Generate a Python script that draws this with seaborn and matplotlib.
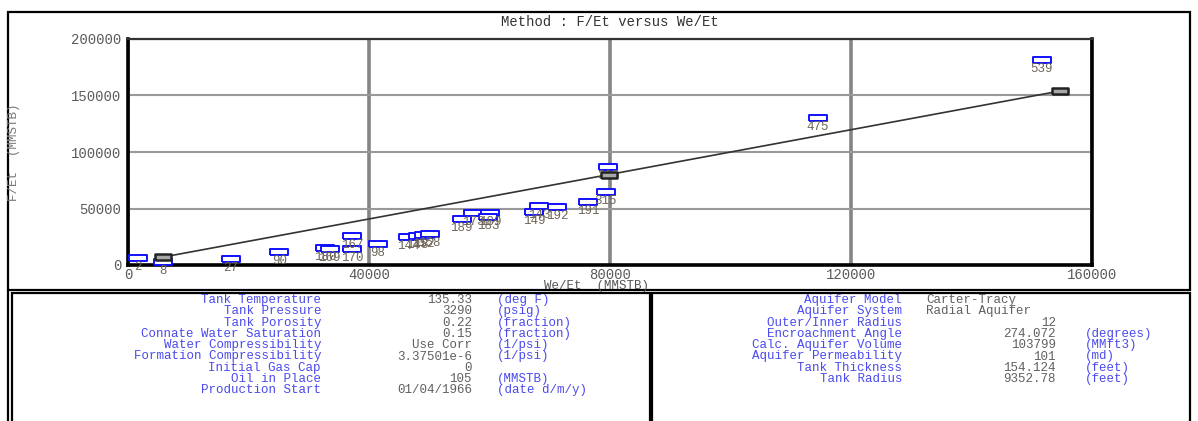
import seaborn as sns
import matplotlib.pyplot as plt
import pandas as pd
from matplotlib.patches import Rectangle
from matplotlib.lines import Line2D

# F/Et versus We/Et points (MMSTB)
we_et = [1700, 5800, 17100, 25100, 32700, 33500, 37200, 37200, 41500,
         46500, 48100, 49100, 50100, 55400, 57300, 60100, 59800,
         67400, 68200, 71200, 76400, 79300, 79700, 114500, 151700]
f_et = [6000, 2700, 5300, 11500, 15000, 14200, 14200, 25700, 18600,
        24800, 25700, 26500, 27400, 40700, 46000, 46000, 42500,
        46900, 52200, 51300, 55800, 64600, 86700, 130100, 181400]
point_labels = ["2", "8", "27", "90", "180", "169", "170", "167", "98",
                "144", "148", "152", "158", "189", "173", "189", "183",
                "149", "143", "192", "191", "315", "325", "475", "539"]

# fitted straight line
fit_we = [5800, 79800, 154700]
fit_f = [7000, 80000, 154000]

x_ticks = [0, 40000, 80000, 120000, 160000]
y_ticks = [0, 50000, 100000, 150000, 200000]

tank_names = ["Tank Temperature", "Tank Pressure", "Tank Porosity",
              "Connate Water Saturation", "Water Compressibility",
              "Formation Compressibility", "Initial Gas Cap",
              "Oil in Place", "Production Start"]
tank_values = ["135.33", "3290", "0.22", "0.15", "Use Corr",
               "3.37501e-6", "0", "105", "01/04/1966"]
tank_units = ["(deg F)", "(psig)", "(fraction)", "(fraction)", "(1/psi)",
              "(1/psi)", "", "(MMSTB)", "(date d/m/y)"]

aquifer_names = ["Aquifer Model", "Aquifer System", "Outer/Inner Radius",
                 "Encroachment Angle", "Calc. Aquifer Volume",
                 "Aquifer Permeability", "Tank Thickness", "Tank Radius"]
aquifer_values = ["Carter-Tracy", "Radial Aquifer", "12", "274.072",
                  "103799", "101", "154.124", "9352.78"]
aquifer_units = ["", "", "", "(degrees)", "(MMft3)", "(md)", "(feet)", "(feet)"]

W, H = 1198, 421
MONO = ["Liberation Mono", "DejaVu Sans Mono"]

sns.set_style("white")
plt.rcParams["font.family"] = MONO


def fx(x):
	return x / W


def fy(y):
	return 1 - y / H


fig = plt.figure(figsize=(W / 100, H / 100), dpi=100)
ax = fig.add_axes([fx(128), fy(265), fx(1092) - fx(128), fy(39) - fy(265)])

df = pd.DataFrame({"we_et": we_et, "f_et": f_et, "label": point_labels})
box = [(-1, -0.38), (1, -0.38), (1, 0.38), (-1, 0.38), (-1, -0.38)]

sns.lineplot(x=fit_we, y=fit_f, color="#333333", lw=1.2, ax=ax, zorder=3)
sns.scatterplot(data=df, x="we_et", y="f_et", marker=box, s=150,
                color="white", edgecolor="#1010ff", linewidth=1.4,
                ax=ax, zorder=4)

for _, r in df.iterrows():
	ax.annotate(r["label"], (r["we_et"], r["f_et"]), xytext=(0, -9),
	            textcoords="offset pixels", ha="center", va="center",
	            fontsize=9, color="#6e6658", zorder=5)

sns.scatterplot(x=fit_we, y=fit_f, marker=box, s=140, color="#a8a8a8",
                edgecolor="#222222", linewidth=1.8, ax=ax, zorder=6)

ax.set_xlim(0, 160000)
ax.set_ylim(0, 200000)
ax.set_xticks(x_ticks)
ax.set_yticks(y_ticks)
ax.set_xticklabels([str(t) for t in x_ticks])
ax.set_yticklabels([str(t) for t in y_ticks])
ax.tick_params(axis="both", length=0, labelsize=10, labelcolor="#5a5a5a")
ax.tick_params(axis="x", pad=2)
ax.tick_params(axis="y", pad=5)
ax.set_xlabel("")
ax.set_ylabel("")

ax.xaxis.grid(True, color="#858585", lw=2.6)
ax.yaxis.grid(True, color="#999999", lw=1.5)
ax.set_axisbelow(True)
for side in ["left", "bottom", "right"]:
	ax.spines[side].set_linewidth(2.6)
	ax.spines[side].set_color("black")
ax.spines["top"].set_linewidth(1.6)
ax.spines["top"].set_color("#333333")

fig.text(fx(610), fy(22), "Method : F/Et versus We/Et", ha="center",
         va="center", fontsize=10, color="#333333")
fig.text(fx(597), fy(286), "We/Et  (MMSTB)", ha="center", va="center",
         fontsize=9, color="#555555")
fig.text(fx(14), fy(152), "F/Et  (MMSTB)", ha="center", va="center",
         rotation=90, fontsize=9, color="#777777")

# frames around chart and the two tables
frames = [(8, 12, 1190, 290), (12, 293, 650, 423), (652, 293, 1190, 423)]
for x0, y0, x1, y1 in frames:
	fig.add_artist(Rectangle((fx(x0), fy(y1)), fx(x1) - fx(x0), fy(y0) - fy(y1),
	                         transform=fig.transFigure, fill=False,
	                         ec="black", lw=1.6))
fig.add_artist(Line2D([fx(8), fx(8)], [fy(290), fy(421)],
                      transform=fig.transFigure, color="black", lw=1.6))

# reservoir data table
label_col = "#4a4aee"
value_col = "#606060"
fs = 9
row_y = [300 + 11.3 * i for i in range(len(tank_names))]
for y, n, v, u in zip(row_y, tank_names, tank_values, tank_units):
	fig.text(fx(321), fy(y), n, ha="right", va="center", fontsize=fs, color=label_col)
	fig.text(fx(472), fy(y), v, ha="right", va="center", fontsize=fs, color=value_col)
	fig.text(fx(497), fy(y), u, ha="left", va="center", fontsize=fs, color=label_col)

# aquifer table
for i, (n, v, u) in enumerate(zip(aquifer_names, aquifer_values, aquifer_units)):
	y = row_y[i]
	fig.text(fx(902), fy(y), n, ha="right", va="center", fontsize=fs, color=label_col)
	if i < 2:
		fig.text(fx(926), fy(y), v, ha="left", va="center", fontsize=fs, color=value_col)
	else:
		fig.text(fx(1056), fy(y), v, ha="right", va="center", fontsize=fs, color=value_col)
	fig.text(fx(1085), fy(y), u, ha="left", va="center", fontsize=fs, color=label_col)

fig.savefig("out.png", dpi=100)
